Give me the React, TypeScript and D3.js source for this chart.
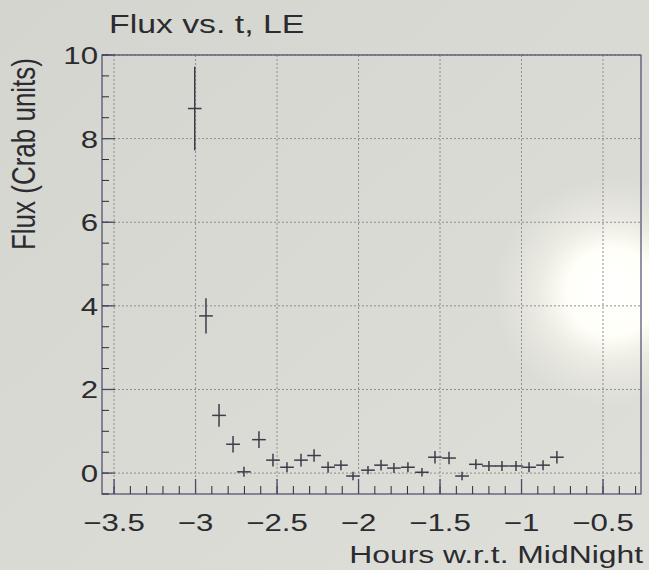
import React from 'react';
import * as d3 from 'd3';

// hours w.r.t. midnight (bin centres) and flux in Crab units
const hours = [
  -3.005, -2.936, -2.856, -2.77, -2.703, -2.611, -2.525, -2.439, -2.353, -2.273,
  -2.187, -2.108, -2.034, -1.942, -1.862, -1.783, -1.697, -1.611, -1.531, -1.445,
  -1.365, -1.28, -1.2, -1.12, -1.034, -0.954, -0.868, -0.783,
];
const flux = [
  8.72, 3.76, 1.38, 0.69, 0.03, 0.8, 0.31, 0.14, 0.31, 0.42,
  0.14, 0.19, -0.07, 0.07, 0.19, 0.12, 0.14, 0.02, 0.38, 0.36,
  -0.07, 0.21, 0.17, 0.17, 0.17, 0.14, 0.19, 0.38,
];
const fluxErr = [
  1.0, 0.42, 0.27, 0.2, 0.12, 0.2, 0.15, 0.12, 0.15, 0.15,
  0.13, 0.12, 0.1, 0.1, 0.13, 0.12, 0.12, 0.1, 0.15, 0.15,
  0.1, 0.12, 0.12, 0.12, 0.12, 0.12, 0.12, 0.15,
];
const binHalf = 0.042;

const xTicks = [-3.5, -3, -2.5, -2, -1.5, -1, -0.5];
const xTickLabels = ['−3.5', '−3', '−2.5', '−2', '−1.5', '−1', '−0.5'];
const yTicks = [0, 2, 4, 6, 8, 10];
const yTickLabels = ['0', '2', '4', '6', '8', '10'];

const W = 649;
const H = 570;
const left = 102, right = 641, top = 55, bottom = 494;
const stretch = 1.3; // photo is stretched horizontally
const font = '"Liberation Sans", Arial, Helvetica, sans-serif';
const ink = '#2b2b30';
const axisCol = '#4a4a6c';

const App: React.FC = () => {
  const x = d3.scaleLinear().domain([-3.574, -0.267]).range([left, right]);
  const y = d3.scaleLinear().domain([-0.5, 10]).range([bottom, top]);

  const xMinor = d3.range(-3.5, -0.26, 0.1).map(v => +v.toFixed(2));
  const yMinor = d3.range(-0.5, 10.01, 0.5);

  return (
    <svg width={W} height={H} style={{ position: 'absolute', left: 0, top: 0 }}>
      <defs>
        <radialGradient id="glare" cx="0.5" cy="0.5" r="0.5">
          <stop offset="0" stopColor="#ffffff" stopOpacity="1" />
          <stop offset="0.38" stopColor="#fffff8" stopOpacity="1" />
          <stop offset="0.6" stopColor="#fafaf0" stopOpacity="0.55" />
          <stop offset="1" stopColor="#f0f0ea" stopOpacity="0" />
        </radialGradient>
        <linearGradient id="bg" x1="0" y1="0" x2="1" y2="1">
          <stop offset="0" stopColor="#d5d5cf" />
          <stop offset="1" stopColor="#dfdfd9" />
        </linearGradient>
      </defs>
      <rect x={0} y={0} width={W} height={H} fill="url(#bg)" />
      <ellipse cx={612} cy={292} rx={120} ry={115} fill="url(#glare)" />

      {/* grid */}
      {xTicks.map(t => (
        <line key={'gx' + t} x1={x(t)} x2={x(t)} y1={top} y2={bottom}
          stroke="#8e8e8c" strokeWidth={1} strokeDasharray="2,2" />
      ))}
      {yTicks.map(t => (
        <line key={'gy' + t} x1={left} x2={right} y1={y(t)} y2={y(t)}
          stroke="#8e8e8c" strokeWidth={1} strokeDasharray="2,2" />
      ))}

      {/* frame */}
      <rect x={left} y={top} width={right - left} height={bottom - top}
        fill="none" stroke={axisCol} strokeWidth={1.2} />

      {/* x ticks */}
      {xMinor.map(t => (
        <line key={'xm' + t} x1={x(t)} x2={x(t)} y1={bottom} y2={bottom - 8}
          stroke={ink} strokeWidth={1} />
      ))}
      {xTicks.map((t, i) => (
        <g key={'xt' + t}>
          <line x1={x(t)} x2={x(t)} y1={bottom} y2={bottom - 15} stroke={axisCol} strokeWidth={1.3} />
          <text transform={`translate(${x(t)},531) scale(${stretch},1)`} textAnchor="middle"
            fontFamily={font} fontSize={24} fill={ink}>{xTickLabels[i]}</text>
        </g>
      ))}

      {/* y ticks */}
      {yMinor.map(t => (
        <line key={'ym' + t} x1={left} x2={left + 7} y1={y(t)} y2={y(t)}
          stroke={ink} strokeWidth={1} />
      ))}
      {yTicks.map((t, i) => (
        <g key={'yt' + t}>
          <line x1={left} x2={left + 13} y1={y(t)} y2={y(t)} stroke={axisCol} strokeWidth={1.3} />
          <text transform={`translate(98,${y(t) + 9}) scale(${stretch},1)`} textAnchor="end"
            fontFamily={font} fontSize={24} fill={ink}>{yTickLabels[i]}</text>
        </g>
      ))}

      {/* data with error bars */}
      {hours.map((h, i) => (
        <g key={'p' + i} stroke="#3c3c4a" strokeWidth={1.5}>
          <line x1={x(h - binHalf)} x2={x(h + binHalf)} y1={y(flux[i])} y2={y(flux[i])} />
          <line x1={x(h)} x2={x(h)} y1={y(flux[i] - fluxErr[i])} y2={y(flux[i] + fluxErr[i])} />
        </g>
      ))}

      {/* titles */}
      <text transform={`translate(109,33) scale(${stretch},1)`} fontFamily={font}
        fontSize={26} fill={ink}>Flux vs. t, LE</text>
      <text transform={`translate(643,563) scale(${stretch},1)`} textAnchor="end"
        fontFamily={font} fontSize={24.5} fill={ink}>Hours w.r.t. MidNight</text>
      <text transform={`translate(35,58) scale(${stretch},1) rotate(-90)`} textAnchor="end"
        fontFamily={font} fontSize={26} fill={ink}>Flux (Crab units)</text>
    </svg>
  );
};

export default App;
